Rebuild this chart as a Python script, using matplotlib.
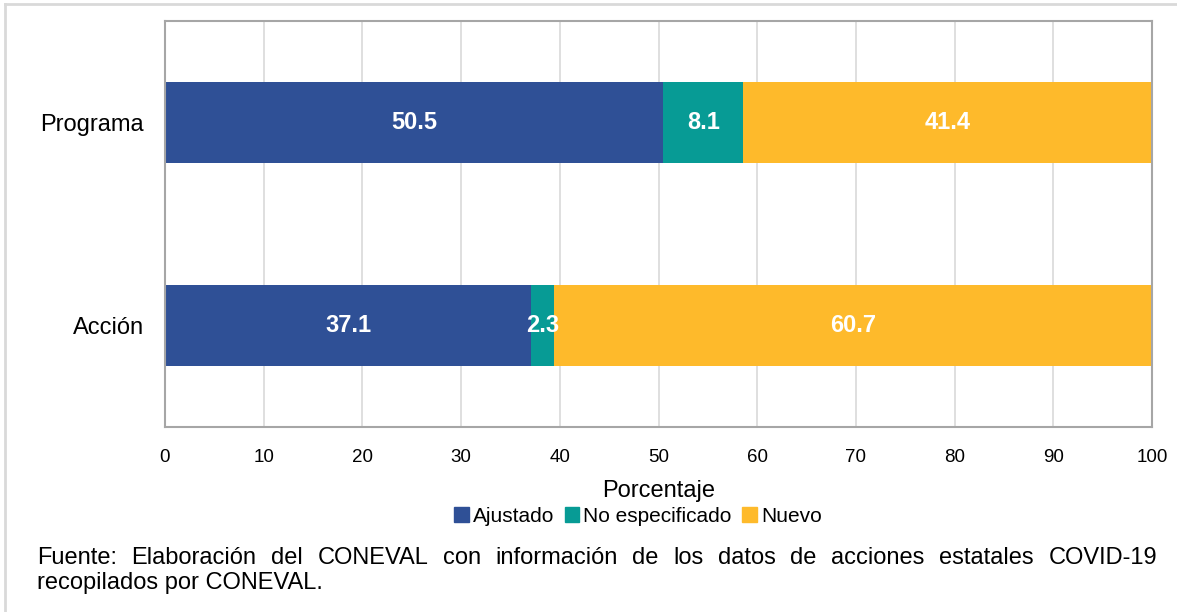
import matplotlib
matplotlib.use("Agg")
import matplotlib.pyplot as plt
from matplotlib.patches import Patch
from matplotlib.lines import Line2D

plt.rcParams['font.family'] = ['Liberation Sans', 'DejaVu Sans']

categorias = ["Programa", "Acción"]
series = ["Ajustado", "No especificado", "Nuevo"]
ajustado = [50.5, 37.1]
no_especificado = [8.1, 2.3]
nuevo = [41.4, 60.7]
colores = ["#2f5096", "#079b95", "#feba2b"]
xticks = list(range(0, 101, 10))

fuente = ("Fuente: Elaboración del CONEVAL con información de los datos de "
          "acciones estatales COVID-19")
fuente2 = "recopilados por CONEVAL."

W, H = 1177, 612
fig = plt.figure(figsize=(W / 100, H / 100), dpi=100)
ax = fig.add_axes([165 / W, 1 - 427 / H, (1152 - 165) / W, (427 - 21) / H])

y = list(range(len(categorias)))
izq = [0.0] * len(categorias)
for nombre, vals, col in zip(series, [ajustado, no_especificado, nuevo], colores):
    ax.barh(y, vals, left=izq, height=0.4, color=col, label=nombre, zorder=2)
    for yi, l, v in zip(y, izq, vals):
        ax.text(l + v / 2, yi, f"{v:.1f}", ha='center', va='center',
                color='white', fontsize=17, fontweight='bold', zorder=3)
    izq = [a + b for a, b in zip(izq, vals)]

ax.set_xlim(0, 100)
ax.set_ylim(1.5, -0.5)
ax.set_xticks(xticks)
ax.set_yticks(y)
ax.set_yticklabels(categorias, fontsize=17)
ax.tick_params(axis='x', labelsize=13.5, length=0, pad=16)
ax.tick_params(axis='y', length=0, pad=15)
ax.grid(axis='x', color='#d9d9d9', linewidth=1.2, zorder=0)
for s in ax.spines.values():
    s.set_color('#a6a6a6')
    s.set_linewidth(1.5)
ax.set_xlabel("Porcentaje", fontsize=17, labelpad=10)

handles = [Patch(color=c) for c in colores]
fig.legend(handles, series, loc='center', bbox_to_anchor=(638 / W, 1 - 516 / H),
           ncol=3, frameon=False, fontsize=15, handlelength=0.7,
           handleheight=0.7, handletextpad=0.2, columnspacing=0.5)

# marco exterior
fig.add_artist(Line2D([5 / W, 1], [1 - 4 / H, 1 - 4 / H], color='#d9d9d9', lw=2))
fig.add_artist(Line2D([5 / W, 5 / W], [0, 1 - 4 / H], color='#d9d9d9', lw=2))

# nota de fuente justificada
renderer = fig.canvas.get_renderer()
x0, x1 = 37, 1157
palabras = fuente.split(" ")
objs = [fig.text(0, 1 - 558 / H, p, fontsize=17, va='center') for p in palabras]
anchos = [t.get_window_extent(renderer).width for t in objs]
hueco = (x1 - x0 - sum(anchos)) / (len(palabras) - 1)
x = x0
for t, w in zip(objs, anchos):
    t.set_x(x / W)
    x += w + hueco
fig.text(x0 / W, 1 - 583 / H, fuente2, fontsize=17, va='center')

fig.savefig("out.png", dpi=100)
